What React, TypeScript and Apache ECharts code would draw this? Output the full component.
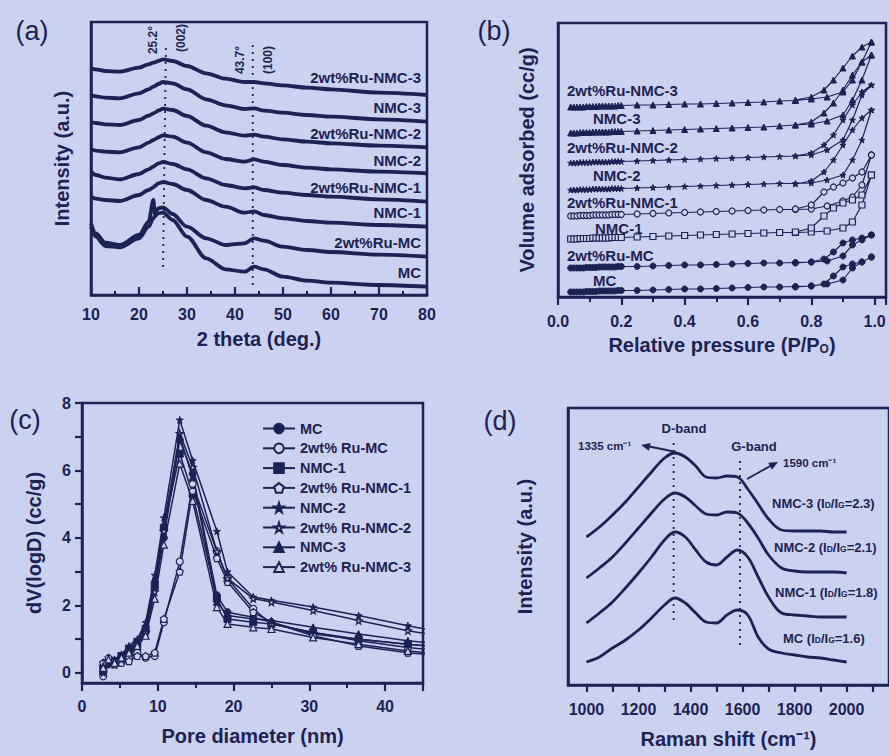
import React, { useEffect, useRef } from "react";
import * as echarts from "echarts";

const NAVY = "#1d2254";
const BG = "#cbd2f0";
const FONT = "'Liberation Sans', Arial, Helvetica, sans-serif";

// ---------- (a) XRD patterns (intensity a.u., stacked) ----------
const xrdTheta = [10, 11, 13, 16, 20, 22, 23, 23.3, 24, 25, 27, 30, 34, 38, 42, 44, 46, 50, 55, 60, 70, 80];
const xrdRuNMC3 = [680, 677, 672, 670, 682, 692, 697, 698, 702, 707, 702, 687, 665, 649, 639, 639, 635, 629, 622, 617, 607, 600];
const xrdNMC3 = [600, 596, 592, 590, 605, 617, 625, 627, 633, 639, 635, 617, 587, 569, 558, 560, 553, 547, 540, 535, 527, 520];
const xrdRuNMC2 = [520, 516, 512, 510, 525, 538, 545, 547, 553, 559, 555, 537, 508, 488, 478, 481, 475, 467, 460, 455, 448, 443];
const xrdNMC2 = [437, 433, 430, 428, 443, 457, 465, 467, 473, 479, 475, 457, 428, 408, 400, 407, 400, 390, 382, 377, 370, 365];
const xrdRuNMC1 = [370, 360, 352, 347, 363, 377, 385, 388, 395, 399, 393, 377, 350, 330, 320, 323, 315, 307, 300, 295, 287, 280];
const xrdNMC1 = [295, 289, 285, 282, 300, 315, 323, 327, 335, 339, 333, 315, 285, 265, 247, 251, 240, 230, 222, 217, 210, 205];
const xrdRuMC = [215, 185, 157, 150, 180, 220, 285, 245, 260, 263, 243, 205, 170, 150, 155, 170, 163, 145, 135, 129, 121, 115];
const xrdMC = [205, 175, 147, 143, 170, 205, 230, 237, 245, 247, 225, 175, 110, 77, 70, 85, 77, 55, 43, 37, 30, 25];
const xrdCurves = [xrdRuNMC3, xrdNMC3, xrdRuNMC2, xrdNMC2, xrdRuNMC1, xrdNMC1, xrdRuMC, xrdMC];
const xrdLabels = ["2wt%Ru-NMC-3", "NMC-3", "2wt%Ru-NMC-2", "NMC-2", "2wt%Ru-NMC-1", "NMC-1", "2wt%Ru-MC", "MC"];
const xrdPeak002 = [[25.0, 84], [25.6, 744]];
const xrdPeak100 = [[43.7, 30], [43.7, 750]];

// ---------- (b) N2 isotherms (volume a.u., stacked) ----------
const bPressAds = [
  0.04, 0.05, 0.06, 0.07, 0.08, 0.09, 0.1, 0.11, 0.12, 0.13, 0.14, 0.15, 0.16, 0.17, 0.18, 0.19, 0.2,
  0.25, 0.3, 0.35, 0.4, 0.45, 0.5, 0.55, 0.6, 0.65, 0.7, 0.75, 0.8, 0.85, 0.9, 0.93, 0.96, 0.99,
];
const bPressDes = [0.99, 0.96, 0.93, 0.9, 0.87, 0.84, 0.8, 0.75];
const bAdsRuNMC3 = [190, 190, 190, 190, 190, 190.5, 190.5, 190.5, 190.5, 191, 191, 191, 191, 191, 191, 191.5, 191.5, 192, 192, 192.5, 193, 193, 193.5, 194, 194.5, 195, 196, 196.5, 198, 200, 205, 217, 235, 255];
const bDesRuNMC3 = [255, 250, 241, 229, 217, 207, 200, 197];
const bAdsNMC3 = [164, 164, 164, 164.5, 164.5, 164.5, 164.5, 165, 165, 165, 165, 165, 165, 165.5, 165.5, 165.5, 165.5, 166, 166.5, 167, 167.5, 168, 168.5, 169, 169.5, 170, 171, 172, 173, 176, 182, 197, 217, 242];
const bDesNMC3 = [242, 235, 222, 207, 194, 184, 175, 172];
const bAdsRuNMC2 = [134, 134, 134, 134.5, 134.5, 134.5, 134.5, 135, 135, 135, 135, 135, 135, 135.5, 135.5, 135.5, 135.5, 136, 136.5, 137, 137.5, 138, 138.5, 139, 139.5, 140, 140.5, 141, 142, 147, 157, 177, 202, 212];
const bDesRuNMC2 = [212, 205, 192, 177, 162, 152, 144, 141];
const bAdsNMC2 = [107, 107, 107, 107.5, 107.5, 107.5, 107.5, 108, 108, 108, 108, 108, 108, 108.5, 108.5, 108.5, 108.5, 109, 109.5, 110, 110.5, 111, 111.5, 112, 112.5, 113, 113.5, 113.5, 114, 117, 122, 137, 157, 187];
const bDesNMC2 = [187, 179, 167, 152, 137, 125, 116, 113];
const bAdsRuNMC1 = [81, 81, 81, 81.5, 81.5, 81.5, 81.5, 82, 82, 82, 82, 82, 82, 82.5, 82.5, 82.5, 82.5, 83, 83.5, 84, 84.5, 85, 85.5, 86, 86.5, 87, 87.5, 87.5, 88, 91, 96, 100, 112, 142];
const bDesRuNMC1 = [142, 125, 119, 114, 110, 105, 92, 88];
const bAdsNMC1 = [58, 58, 58, 58.5, 58.5, 58.5, 58.5, 59, 59, 59, 59, 59, 59, 59.5, 59.5, 59.5, 59.5, 60, 60.5, 61, 61.5, 62, 62.5, 63, 63.5, 64, 64.5, 64.5, 65, 66, 69, 75, 92, 122];
const bDesNMC1 = [122, 102, 97, 94, 89, 81, 69, 65];
const bAdsRuMC = [29, 29, 29, 29, 29, 29.5, 29.5, 29.5, 29.5, 30, 30, 30, 30, 30, 30, 30.5, 30.5, 30.5, 31, 31.5, 32, 32, 32.5, 33, 33.5, 34, 34, 34.5, 35, 36, 41, 52, 57, 62];
const bDesRuMC = [62, 59, 57, 54, 45, 38, 35, 34];
const bAdsMC = [5, 5, 5, 5, 5, 5.5, 5.5, 5.5, 5.5, 6, 6, 6, 6, 6, 6, 6.5, 6.5, 6.5, 7, 7.5, 8, 8, 8.5, 9, 9.5, 10, 10, 10.5, 11, 13, 17, 29, 35, 40];
const bDesMC = [40, 35, 33, 30, 21, 13, 11, 10];
const bAds = [bAdsRuNMC3, bAdsNMC3, bAdsRuNMC2, bAdsNMC2, bAdsRuNMC1, bAdsNMC1, bAdsRuMC, bAdsMC];
const bDes = [bDesRuNMC3, bDesNMC3, bDesRuNMC2, bDesNMC2, bDesRuNMC1, bDesNMC1, bDesRuMC, bDesMC];
const bLabels = ["2wt%Ru-NMC-3", "NMC-3", "2wt%Ru-NMC-2", "NMC-2", "2wt%Ru-NMC-1", "NMC-1", "2wt%Ru-MC", "MC"];

// ---------- (c) pore size distribution ----------
const poreD = [2.8, 3.5, 4.3, 5.2, 6.2, 7.3, 8.4, 9.6, 10.8, 12.9, 14.6, 17.8, 19.2, 22.6, 25, 30.5, 36.5, 43, 50];
const psdMC = [0.0, 0.25, 0.3, 0.4, 0.55, 0.75, 1.2, 2.5, 4.0, 6.9, 5.9, 2.3, 1.8, 1.65, 1.5, 1.15, 1.0, 0.85, 0.7];
const psdRuMC = [-0.1, 0.35, 0.25, 0.3, 0.45, 0.6, 0.45, 0.5, 1.5, 3.3, 5.6, 3.6, 2.8, 1.9, 1.45, 1.2, 0.95, 0.75, 0.6];
const psdNMC1 = [0.1, 0.3, 0.35, 0.5, 0.7, 0.9, 1.3, 2.6, 4.3, 6.5, 5.3, 2.2, 1.6, 1.5, 1.45, 1.2, 1.0, 0.85, 0.7];
const psdRuNMC1 = [0.3, 0.45, 0.35, 0.3, 0.35, 0.5, 0.5, 0.6, 1.6, 3.0, 5.4, 3.4, 2.7, 1.8, 1.5, 1.1, 0.8, 0.6, 0.45];
const psdNMC2 = [0.0, 0.35, 0.4, 0.55, 0.8, 1.0, 1.5, 2.9, 4.6, 7.5, 6.3, 4.2, 3.0, 2.25, 2.15, 1.95, 1.7, 1.4, 1.1];
const psdRuNMC2 = [0.2, 0.3, 0.25, 0.4, 0.6, 0.9, 1.2, 2.4, 4.2, 7.1, 6.1, 3.6, 2.8, 2.2, 2.1, 1.85, 1.55, 1.25, 1.0];
const psdNMC3 = [0.05, 0.3, 0.35, 0.5, 0.7, 0.95, 1.4, 2.8, 4.4, 7.0, 5.8, 2.1, 1.7, 1.6, 1.55, 1.35, 1.15, 0.95, 0.8];
const psdRuNMC3 = [0.15, 0.4, 0.3, 0.45, 0.6, 0.8, 1.1, 2.2, 3.8, 6.2, 5.1, 1.95, 1.45, 1.35, 1.3, 1.05, 0.85, 0.65, 0.5];
const psdCurves = [psdMC, psdRuMC, psdNMC1, psdRuNMC1, psdNMC2, psdRuNMC2, psdNMC3, psdRuNMC3];
const psdNames = ["MC", "2wt% Ru-MC", "NMC-1", "2wt% Ru-NMC-1", "NMC-2", "2wt% Ru-NMC-2", "NMC-3", "2wt% Ru-NMC-3"];
const psdYLabels = [0, 2, 4, 6, 8];
const psdYTicks = [0, 1, 2, 3, 4, 5, 6, 7, 8];

// ---------- (d) Raman spectra (intensity a.u., stacked) ----------
const ramanShift = [1000, 1050, 1100, 1150, 1200, 1250, 1300, 1340, 1380, 1420, 1460, 1500, 1540, 1580, 1620, 1660, 1700, 1750, 1800, 1850, 1900, 1950, 2000];
const ramanNMC3 = [148, 158, 170, 183, 198, 213, 227, 232, 228, 219, 208, 207, 209, 208, 196, 181, 166, 155, 154, 154, 154, 153, 153];
const ramanNMC2 = [107, 117, 128, 142, 157, 172, 186, 192, 188, 179, 171, 170, 173, 172, 162, 147, 130, 117, 114, 113, 113, 113, 112];
const ramanNMC1 = [62, 72, 83, 97, 112, 128, 145, 153, 148, 135, 123, 120, 128, 135, 128, 108, 88, 72, 70, 69, 68, 68, 68];
const ramanMC = [23, 28, 37, 45, 55, 67, 80, 87, 82, 72, 63, 62, 70, 75, 70, 48, 36, 32, 30, 28, 27, 25, 23];
const ramanCurves = [ramanNMC3, ramanNMC2, ramanNMC1, ramanMC];
const ramanLabels = [
  "NMC-3 (I{s|D}/I{s|G}=2.3)",
  "NMC-2 (I{s|D}/I{s|G}=2.1)",
  "NMC-1 (I{s|D}/I{s|G}=1.8)",
  "MC (I{s|D}/I{s|G}=1.6)",
];
const ramanXLabels = [1000, 1200, 1400, 1600, 1800, 2000];
const ramanXTicks = [1000, 1100, 1200, 1300, 1400, 1500, 1600, 1700, 1800, 1900, 2000, 2100];
const dBandLine = [[1335, 65], [1335, 245]];
const gBandLine = [[1590, 40], [1590, 227]];

const STAR = "path://M50,0 L61,35 L98,35 L68,57 L79,91 L50,70 L21,91 L32,57 L2,35 L39,35 Z";
const PENT = "path://M50,0 L98,36 L80,95 L20,95 L2,36 Z";

export default function App() {
  const ref = useRef<HTMLDivElement>(null);
  useEffect(() => {
    if (!ref.current) return;
    const chart = echarts.init(ref.current, null, { renderer: "svg" });

    const axisLine = () => ({ show: true, onZero: false, lineStyle: { color: NAVY, width: 2.5 } });
    const labelStyle = { color: NAVY, fontSize: 16, fontWeight: "bold" as const, fontFamily: FONT };
    const nameStyle = { color: NAVY, fontSize: 20, fontWeight: "bold" as const, fontFamily: FONT };
    const gridBase = { show: true, borderColor: NAVY, borderWidth: 2.5 };
    const tick = (len: number, inside: boolean, custom?: number[]) => {
      const t: any = { show: true, inside, length: len, lineStyle: { color: NAVY, width: 2.2 } };
      if (custom) t.customValues = custom;
      return t;
    };
    const minor = (len: number) => ({ show: true, splitNumber: 2, length: len, lineStyle: { color: NAVY, width: 2 } });

    const filled = (sym: string) => ({ symbol: sym, itemStyle: { color: NAVY, borderColor: NAVY, borderWidth: 1 } });
    const hollow = (sym: string) => ({ symbol: sym, itemStyle: { color: BG, borderColor: NAVY, borderWidth: 1.2 } });
    const bSyms = [filled("triangle"), filled("triangle"), filled(STAR), filled(STAR), hollow("circle"), hollow("rect"), filled("circle"), filled("circle")];
    const cSyms = [filled("circle"), hollow("circle"), filled("rect"), hollow(PENT), filled(STAR), hollow(STAR), filled("triangle"), hollow("triangle")];

    const series: any[] = [];
    xrdCurves.forEach((vals, i) => {
      series.push({
        type: "line", name: "a-" + xrdLabels[i], xAxisIndex: 0, yAxisIndex: 0,
        data: xrdTheta.map((t, j) => [t, vals[j]]), showSymbol: false, smooth: 0.3, smoothMonotone: "x",
        lineStyle: { color: NAVY, width: 3.8 }, z: 3,
      });
    });
    [xrdPeak002, xrdPeak100].forEach((d, i) => {
      series.push({
        type: "line", name: "a-peak" + i, xAxisIndex: 0, yAxisIndex: 0, data: d, showSymbol: false,
        lineStyle: { color: NAVY, width: 1.8, type: [2, 5] }, z: 2,
      });
    });
    bAds.forEach((ads, i) => {
      const data = bPressAds.map((p, j) => [p, ads[j]]).concat(bPressDes.map((p, j) => [p, bDes[i][j]]));
      series.push({
        type: "line", name: "b-" + bLabels[i], xAxisIndex: 1, yAxisIndex: 1, data,
        ...bSyms[i], symbolSize: 6, showSymbol: true, showAllSymbol: true,
        lineStyle: { color: NAVY, width: 1.2 },
      });
    });
    psdCurves.forEach((vals, i) => {
      series.push({
        type: "line", name: psdNames[i], xAxisIndex: 2, yAxisIndex: 2,
        data: poreD.map((d, j) => [d, vals[j]]), ...cSyms[i], symbolSize: 7, showSymbol: true,
        lineStyle: { color: NAVY, width: 1.5 },
      });
    });
    ramanCurves.forEach((vals, i) => {
      series.push({
        type: "line", name: "d-" + i, xAxisIndex: 3, yAxisIndex: 3,
        data: ramanShift.map((x, j) => [x, vals[j]]), showSymbol: false, smooth: 0.35,
        lineStyle: { color: NAVY, width: 2.8 },
      });
    });
    [dBandLine, gBandLine].forEach((d, i) => {
      series.push({
        type: "line", name: "d-band" + i, xAxisIndex: 3, yAxisIndex: 3, data: d, showSymbol: false,
        lineStyle: { color: NAVY, width: 1.8, type: [2, 5] },
      });
    });

    const txt = (x: number, y: number, text: string, extra: any = {}) => ({
      type: "text", x, y, z: 100,
      style: { text, fill: NAVY, fontFamily: FONT, fontWeight: "bold", fontSize: 15, align: "left", verticalAlign: "middle", ...extra },
    });
    const graphic: any[] = [
      txt(32, 31, "(a)", { fontSize: 27, fontWeight: "normal", align: "center" }),
      txt(494, 31, "(b)", { fontSize: 27, fontWeight: "normal", align: "center" }),
      txt(25, 420, "(c)", { fontSize: 27, fontWeight: "normal", align: "center" }),
      txt(500, 421, "(d)", { fontSize: 27, fontWeight: "normal", align: "center" }),
      { ...txt(153, 40, "25.2°", { fontSize: 12, align: "center" }), rotation: Math.PI / 2 },
      { ...txt(181, 38, "(002)", { fontSize: 12, align: "center" }), rotation: Math.PI / 2 },
      { ...txt(240, 60, "43.7°", { fontSize: 12, align: "center" }), rotation: Math.PI / 2 },
      { ...txt(268, 60, "(100)", { fontSize: 12, align: "center" }), rotation: Math.PI / 2 },
      txt(684, 428, "D-band", { fontSize: 13, align: "center" }),
      txt(754, 446, "G-band", { fontSize: 13, align: "center" }),
      txt(578, 446, "1335 cm⁻¹", { fontSize: 11.5 }),
      txt(783, 463, "1590 cm⁻¹", { fontSize: 11.5 }),
      { type: "line", z: 100, shape: { x1: 676, y1: 452, x2: 647, y2: 446 }, style: { stroke: NAVY, lineWidth: 1.8 } },
      { type: "polygon", z: 100, shape: { points: [[641, 445], [650.6, 442.9], [649, 450.7]] }, style: { fill: NAVY } },
      { type: "line", z: 100, shape: { x1: 747, y1: 479, x2: 772, y2: 465 }, style: { stroke: NAVY, lineWidth: 1.8 } },
      { type: "polygon", z: 100, shape: { points: [[778, 462], [772, 469.8], [768.2, 462.8]] }, style: { fill: NAVY } },
    ];
    const aLabelY = [77, 107, 133, 160, 187, 212, 242, 272];
    xrdLabels.forEach((t, i) => graphic.push(txt(421, aLabelY[i], t, { align: "right" })));
    const bLabelX = [567, 593, 567, 593, 567, 595, 567, 593];
    const bLabelY = [90, 118, 147, 175, 202, 228, 255, 280];
    bLabels.forEach((t, i) => graphic.push(txt(bLabelX[i], bLabelY[i], t, { fontSize: 15 })));
    const dLabelX = [772, 774, 775, 783];
    const dLabelY = [503, 547, 592, 638];
    const sub = { s: { fontSize: 8.5, fontWeight: "bold", fill: NAVY, fontFamily: FONT, verticalAlign: "bottom" } };
    ramanLabels.forEach((t, i) =>
      graphic.push(txt(dLabelX[i], dLabelY[i], t, { fontSize: 13, rich: sub }))
    );

    const option: any = {
      animation: false,
      backgroundColor: BG,
      textStyle: { fontFamily: FONT },
      grid: [
        { ...gridBase, left: 91, top: 22, width: 336, height: 273 },
        { ...gridBase, left: 558, top: 23, width: 329, height: 274 },
        { ...gridBase, left: 82, top: 403, width: 341, height: 280 },
        { ...gridBase, left: 568, top: 408, width: 330, height: 277 },
      ],
      xAxis: [
        {
          gridIndex: 0, type: "value", min: 10, max: 80, interval: 10, axisLine: axisLine(),
          axisTick: tick(8, true), minorTick: minor(4),
          axisLabel: { ...labelStyle, margin: 11 }, splitLine: { show: false },
          name: "2 theta (deg.)", nameLocation: "middle", nameGap: 34, nameTextStyle: nameStyle,
        },
        {
          gridIndex: 1, type: "value", min: 0, max: 1.036, interval: 0.2, axisLine: axisLine(),
          axisTick: tick(8, false), minorTick: minor(5),
          axisLabel: {
            ...labelStyle, margin: 16,
            formatter: (v: number) => (Math.abs(v * 5 - Math.round(v * 5)) < 1e-6 ? v.toFixed(1) : ""),
          },
          splitLine: { show: false },
          name: "Relative pressure (P/P{s|O})", nameLocation: "middle", nameGap: 38,
          nameTextStyle: { ...nameStyle, rich: { s: { fontSize: 12, fontWeight: "bold", color: NAVY, fontFamily: FONT, verticalAlign: "bottom" } } },
        },
        {
          gridIndex: 2, type: "value", min: 0, max: 45, interval: 10, axisLine: axisLine(),
          axisTick: tick(8, false), minorTick: minor(5),
          axisLabel: { ...labelStyle, margin: 15, formatter: (v: number) => (v % 10 === 0 ? String(v) : "") },
          splitLine: { show: false },
          name: "Pore diameter (nm)", nameLocation: "middle", nameGap: 43, nameTextStyle: nameStyle,
        },
        {
          gridIndex: 3, type: "value", min: 929, max: 2163, axisLine: axisLine(),
          axisTick: tick(7, false, ramanXTicks),
          axisLabel: { ...labelStyle, margin: 16, customValues: ramanXLabels, formatter: (v: number) => String(v) },
          splitLine: { show: false },
          name: "Raman shift (cm⁻¹)", nameLocation: "middle", nameGap: 44, nameTextStyle: nameStyle,
        },
      ],
      yAxis: [
        {
          gridIndex: 0, type: "value", min: 0, max: 819, axisLine: axisLine(), axisTick: { show: false },
          axisLabel: { show: false }, splitLine: { show: false },
          name: "Intensity (a.u.)", nameLocation: "middle", nameGap: 19, nameTextStyle: nameStyle,
        },
        {
          gridIndex: 1, type: "value", min: 0, max: 274, axisLine: axisLine(), axisTick: { show: false },
          axisLabel: { show: false }, splitLine: { show: false },
          name: "Volume adsorbed (cc/g)", nameLocation: "middle", nameGap: 21, nameTextStyle: nameStyle,
        },
        {
          gridIndex: 2, type: "value", min: -0.3, max: 8, axisLine: axisLine(),
          axisTick: tick(7, false, psdYTicks),
          axisLabel: { ...labelStyle, margin: 11, customValues: psdYLabels }, splitLine: { show: false },
          name: "dV(logD) (cc/g)", nameLocation: "middle", nameGap: 38, nameTextStyle: nameStyle,
        },
        {
          gridIndex: 3, type: "value", min: 0, max: 277, axisLine: axisLine(), axisTick: { show: false },
          axisLabel: { show: false }, splitLine: { show: false },
          name: "Intensity (a.u.)", nameLocation: "middle", nameGap: 33, nameTextStyle: nameStyle,
        },
      ],
      legend: {
        data: psdNames, orient: "vertical", left: 257, top: 416, itemWidth: 32, itemHeight: 12, itemGap: 4.8,
        textStyle: { color: NAVY, fontSize: 14.5, fontWeight: "bold", fontFamily: FONT, lineHeight: 14.5 },
        selectedMode: false,
      },
      series,
      graphic,
    };
    chart.setOption(option);
    return () => chart.dispose();
  }, []);
  return <div ref={ref} style={{ position: "fixed", left: 0, top: 0, width: 889, height: 756 }} />;
}
